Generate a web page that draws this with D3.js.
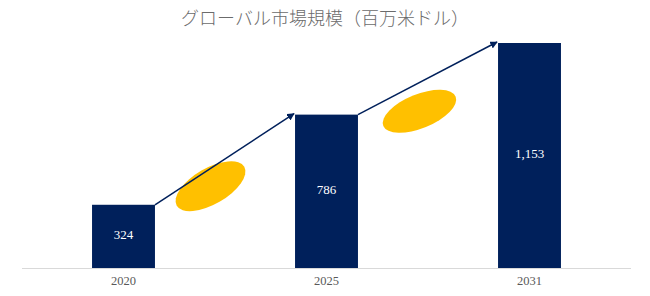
<!DOCTYPE html>
<html lang="ja">
<head>
<meta charset="UTF-8">
<title>グローバル市場規模</title>
<style>
    body { margin: 0; background: #fff; }
    svg { display: block; }
    .title { font-family: "Noto Sans CJK JP", "Noto Sans", sans-serif; font-size: 18px; font-weight: 300; fill: #6b6b6b; }
    .tick-label { font-family: "Liberation Serif", serif; font-size: 12.5px; fill: #595959; }
    .bar-label { font-family: "Liberation Serif", serif; font-size: 13px; fill: #ffffff; }
</style>
</head>
<body>
<div id="chart"></div>
<script src="https://d3js.org/d3.v7.min.js"></script>
<script>
// data
const years = ["2020", "2025", "2031"];
const values = [324, 786, 1153];
const titleText = "グローバル市場規模（百万米ドル）";

const width = 650, height = 296;
const margin = {top: 43, right: 19, bottom: 28, left: 22};

const svg = d3.select("#chart").append("svg")
    .attr("width", width)
    .attr("height", height);

const x = d3.scaleBand()
    .domain(years)
    .range([margin.left, width - margin.right])
    .paddingInner(0.69)
    .paddingOuter(0.345);

const y = d3.scaleLinear()
    .domain([0, d3.max(values)])
    .range([height - margin.bottom, margin.top]);

const navy = "#00205b";

// title
svg.append("text")
    .attr("class", "title")
    .attr("x", width / 2)
    .attr("y", 20)
    .attr("text-anchor", "middle")
    .attr("dominant-baseline", "middle")
    .text(titleText);

// baseline
svg.append("line")
    .attr("x1", margin.left).attr("x2", width - margin.right)
    .attr("y1", y(0) + 0.5).attr("y2", y(0) + 0.5)
    .attr("stroke", "#d9d9d9").attr("stroke-width", 1);

// arrowhead
svg.append("defs").append("marker")
    .attr("id", "arrow")
    .attr("viewBox", "0 0 10 10")
    .attr("refX", 9).attr("refY", 5)
    .attr("markerWidth", 5).attr("markerHeight", 5)
    .attr("orient", "auto")
    .append("path")
    .attr("d", "M0,0 L10,5 L0,10 z")
    .attr("fill", navy);

// connectors + ellipses between bars
const ellipseShape = [{rx: 39, ry: 18, rot: -30, dx: -14, dy: 27}, {rx: 39, ry: 17, rot: -22, dx: -8, dy: 33}];
for (let i = 0; i < years.length - 1; i++) {
    const x1 = x(years[i]) + x.bandwidth(), y1 = y(values[i]);
    const x2 = x(years[i + 1]) - 1, y2 = y(values[i + 1]) - 1;
    const e = ellipseShape[i];
    const cx = (x1 + x2) / 2 + e.dx, cy = (y1 + y2) / 2 + e.dy;
    svg.append("ellipse")
        .attr("cx", 0).attr("cy", 0)
        .attr("rx", e.rx).attr("ry", e.ry)
        .attr("transform", `translate(${cx},${cy}) rotate(${e.rot})`)
        .attr("fill", "#ffc000");
    svg.append("line")
        .attr("x1", x1).attr("y1", y1)
        .attr("x2", x2).attr("y2", y2)
        .attr("stroke", navy)
        .attr("stroke-width", 1.5)
        .attr("marker-end", "url(#arrow)");
}

// bars
const data = years.map((d, i) => ({year: d, value: values[i]}));
svg.selectAll(".bar")
    .data(data)
    .join("rect")
    .attr("class", "bar")
    .attr("x", d => x(d.year))
    .attr("y", d => y(d.value))
    .attr("width", x.bandwidth())
    .attr("height", d => y(0) - y(d.value))
    .attr("fill", navy);

svg.selectAll(".bar-label")
    .data(data)
    .join("text")
    .attr("class", "bar-label")
    .attr("x", d => x(d.year) + x.bandwidth() / 2)
    .attr("y", d => (y(0) + y(d.value)) / 2)
    .attr("text-anchor", "middle")
    .attr("dominant-baseline", "middle")
    .text(d => d3.format(",")(d.value));

// year labels
svg.selectAll(".tick-label")
    .data(years)
    .join("text")
    .attr("class", "tick-label")
    .attr("x", d => x(d) + x.bandwidth() / 2)
    .attr("y", y(0) + 14)
    .attr("text-anchor", "middle")
    .attr("dominant-baseline", "middle")
    .text(d => d);
</script>
</body>
</html>
